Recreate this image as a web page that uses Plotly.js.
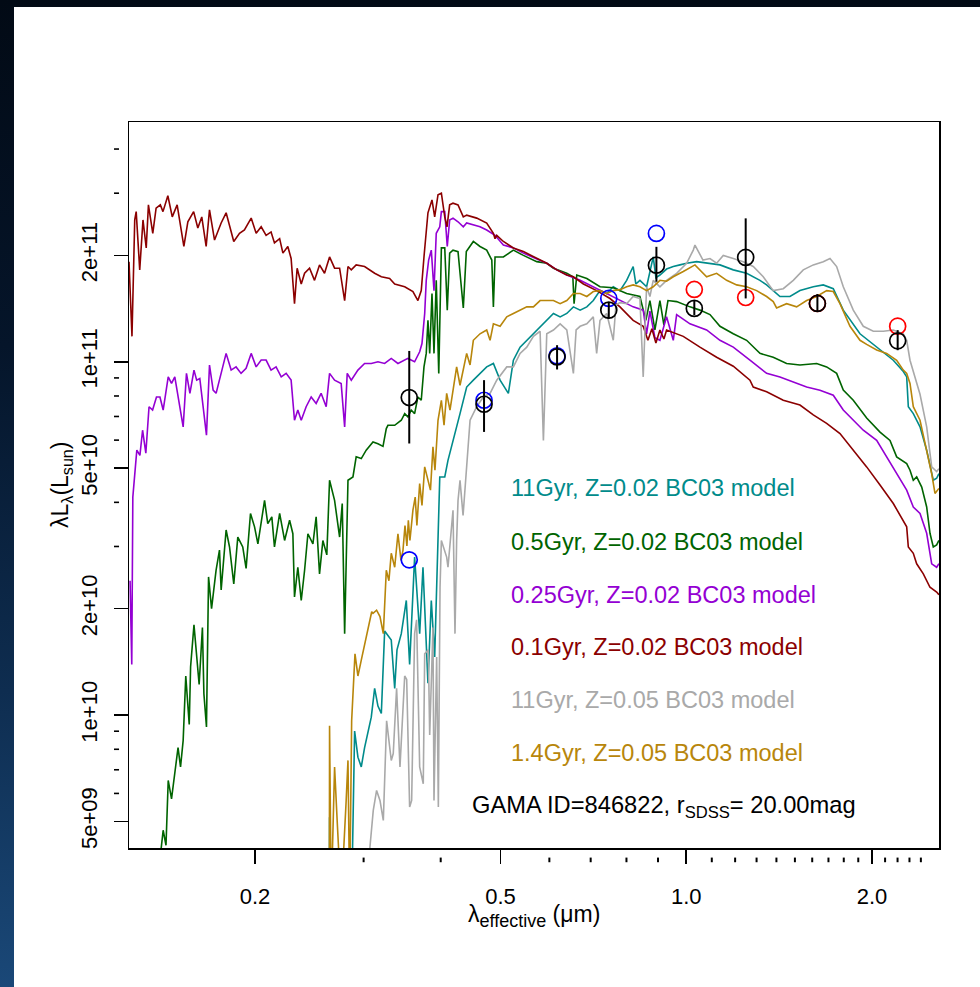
<!DOCTYPE html>
<html>
<head>
<meta charset="utf-8">
<script src="https://cdn.plot.ly/plotly-3.0.1.min.js"></script>
<style>
html,body{margin:0;padding:0;width:980px;height:987px;overflow:hidden;}
body{background:linear-gradient(to bottom,#020a15 0%,#05152a 35%,#0e2d50 70%,#1a4878 100%);}
#chart{position:absolute;left:14px;top:7px;width:966px;height:980px;background:#fff;}
</style>
</head>
<body>
<div id="chart"></div>
<script>
// ---------- data (wavelength in micron, luminosity in units of 1e10 Lsun) ----------
const FLUX_UNIT = 1e10;
const X_RANGE_UM = [0.125, 2.568];
const Y_RANGE = [4.204e9, 4.771e11];

const xMajor = [0.2, 0.5, 1.0, 2.0];
const xMajorText = ['0.2', '0.5', '1.0', '2.0'];
const xMinor = [0.3, 0.4, 0.6, 0.7, 0.8, 0.9, 1.1, 1.2, 1.3, 1.4, 1.5, 1.6, 1.7, 1.8, 1.9, 2.1, 2.2, 2.3, 2.4];
const yMajor = [5e9, 1e10, 2e10, 5e10, 1e11, 2e11];
const yMajorText = ['5e+09', '1e+10', '2e+10', '5e+10', '1e+11', '2e+11'];
const yMinor = [6e9, 7e9, 8e9, 9e9, 3e10, 4e10, 6e10, 7e10, 8e10, 9e10, 3e11, 4e11];

// 11Gyr, Z=0.02
const tealLam = [0.2640,0.2642,0.2658,0.2869,0.2901,0.2937,0.2974,0.3011,0.3087,0.3126,0.3165,0.3205,0.3245,0.3326,0.3369,0.3398,0.3453,0.3518,0.3562,0.3629,0.3698,0.3744,0.3814,0.3862,0.3911,0.3986,0.4061,0.4110,0.4299,0.4407,0.4518,0.4632,0.4749,0.4869,0.4992,0.5149,0.5246,0.5379,0.5515,0.5653,0.5796,0.5942,0.6092,0.6246,0.6403,0.6563,0.6730,0.6900,0.7069,0.7248,0.7431,0.7616,0.7809,0.8006,0.8203,0.8285,0.8412,0.8624,0.8840,0.8929,0.9064,0.9292,0.9527,0.9768,1.0014,1.0394,1.0789,1.1340,1.1918,1.2526,1.3165,1.3497,1.3834,1.4186,1.4725,1.5285,1.6064,1.6674,1.7309,1.7967,1.9123,2.0351,2.1654,2.2478,2.2763,2.2902,2.3332,2.3923,2.4526,2.5139,2.5457,2.567];
const tealFlux = [0.30,0.514,0.30,0.30,0.901,0.760,0.713,0.809,0.986,1.19,1.06,1.01,1.73,1.63,1.19,1.53,1.70,2.11,1.39,2.80,1.70,2.62,1.23,2.11,1.46,4.72,4.72,5.26,7.13,8.48,8.87,9.27,9.67,9.89,8.87,8.14,10.1,11.0,11.5,12.0,12.6,13.1,13.7,13.4,13.7,14.3,14.0,14.3,14.9,15.9,15.6,16.3,15.9,17.0,18.6,16.6,17.0,16.3,19.8,17.3,17.6,18.3,18.6,18.8,19.0,19.2,19.0,18.8,18.2,17.8,17.0,16.5,15.9,15.3,15.3,15.9,16.3,16.5,16.1,14.0,12.0,11.0,10.1,9.38,9.06,7.46,7.13,6.54,5.62,4.62,4.68,4.82];

// 0.5Gyr, Z=0.02
const greenLam = [0.1380,0.1420,0.1435,0.1447,0.1465,0.1483,0.1501,0.1515,0.1530,0.1545,0.1565,0.1573,0.1593,0.1624,0.1644,0.1653,0.1669,0.1682,0.1701,0.1715,0.1730,0.1752,0.1763,0.1796,0.1819,0.1848,0.1876,0.1911,0.1935,0.1967,0.1997,0.2022,0.2073,0.2098,0.2130,0.2151,0.2193,0.2234,0.2276,0.2304,0.2318,0.2347,0.2377,0.2407,0.2437,0.2483,0.2513,0.2545,0.2577,0.2615,0.2642,0.2692,0.2743,0.2770,0.2795,0.2830,0.2883,0.2918,0.2974,0.3029,0.3107,0.3165,0.3225,0.3265,0.3285,0.3369,0.3453,0.3497,0.3539,0.3583,0.3629,0.3674,0.3720,0.3758,0.3790,0.3814,0.3839,0.3872,0.3901,0.3934,0.3971,0.4010,0.4061,0.4099,0.4136,0.4188,0.4267,0.4352,0.4401,0.4518,0.4632,0.4749,0.4840,0.4869,0.4899,0.5054,0.5246,0.5446,0.5725,0.5942,0.6092,0.6403,0.6549,0.6580,0.6646,0.6900,0.7248,0.7616,0.8006,0.8412,0.8600,0.8732,0.8896,0.9064,0.9200,0.9340,0.9647,1.0139,1.0524,1.0925,1.1340,1.1918,1.2526,1.3165,1.3834,1.4543,1.5285,1.6267,1.6885,1.7528,1.7967,1.8650,1.9605,2.0606,2.1389,2.1928,2.2763,2.3046,2.3332,2.3627,2.4076,2.4526,2.4831,2.5139,2.5457,2.567];
const greenFlux = [0.30,0.472,0.428,0.653,0.579,0.697,0.809,0.713,0.848,1.29,0.940,1.37,1.80,1.22,1.77,1.15,0.925,2.46,2.00,2.26,2.57,2.93,2.26,3.34,2.99,2.35,3.19,2.99,2.60,3.72,3.41,3.05,4.05,3.48,3.64,2.99,3.72,3.12,3.56,3.26,2.16,2.62,2.11,2.57,3.26,3.05,3.64,2.51,3.12,2.84,4.62,4.05,3.19,3.97,1.70,4.62,4.72,5.38,5.32,5.62,5.93,5.86,5.76,6.47,6.61,6.61,6.83,7.13,6.98,7.30,7.13,7.95,7.78,9.67,10.56,13.1,10.56,15.6,10.56,17.0,9.27,21.0,21.0,14.0,20.3,20.7,20.5,14.2,20.5,21.9,21.2,20.7,19.4,14.3,19.8,19.8,20.7,20.0,19.2,19.0,18.4,17.8,17.4,14.6,17.6,17.2,16.3,16.2,15.6,15.3,13.1,14.9,12.3,14.9,12.7,14.9,14.8,14.3,14.0,13.6,12.6,12.0,11.5,10.56,10.3,9.89,9.79,9.89,9.67,9.27,8.31,7.78,6.93,6.32,5.99,5.38,5.15,4.93,4.62,4.72,4.42,3.88,3.27,2.99,3.03,3.12];

// 0.25Gyr, Z=0.02
const violetLam = [0.1255,0.1263,0.1268,0.1287,0.1302,0.1315,0.1331,0.1347,0.1365,0.1385,0.1403,0.1420,0.1447,0.1465,0.1483,0.1501,0.1530,0.1549,0.1569,0.1593,0.1609,0.1628,0.1648,0.1669,0.1688,0.1711,0.1730,0.1763,0.1796,0.1830,0.1864,0.1899,0.1935,0.1972,0.2009,0.2047,0.2085,0.2124,0.2164,0.2206,0.2247,0.2289,0.2318,0.2347,0.2377,0.2421,0.2467,0.2513,0.2560,0.2609,0.2642,0.2692,0.2759,0.2795,0.2822,0.2865,0.2937,0.3011,0.3087,0.3165,0.3245,0.3326,0.3410,0.3539,0.3629,0.3698,0.3730,0.3768,0.3790,0.3824,0.3862,0.3901,0.3934,0.3986,0.4010,0.4061,0.4099,0.4136,0.4188,0.4267,0.4352,0.4407,0.4632,0.4749,0.4899,0.5054,0.5246,0.5446,0.5725,0.5942,0.6169,0.6403,0.6730,0.7069,0.7431,0.7809,0.8203,0.8516,0.8624,0.8732,0.8896,0.9064,0.9292,0.9527,0.9647,1.0139,1.0789,1.1340,1.1918,1.2683,1.3497,1.4186,1.4908,1.5670,1.6470,1.7309,1.7967,1.8650,1.9360,2.0351,2.1125,2.1928,2.2763,2.3332,2.3923,2.4526,2.4990,2.5457,2.567];
const violetFlux = [2.40,1.39,4.14,5.62,5.43,6.40,5.51,7.46,7.30,7.95,7.95,7.30,9.06,8.68,9.06,7.95,6.54,9.27,8.14,9.47,8.87,8.97,7.46,6.20,9.79,8.31,8.14,9.27,10.56,9.47,9.67,9.27,9.58,10.56,9.67,10.11,10.11,9.47,9.67,9.06,9.27,8.87,6.83,7.30,6.83,7.46,7.95,7.62,8.14,7.46,9.27,8.87,8.68,6.54,9.27,8.87,9.47,9.89,9.89,10.0,9.89,10.22,9.89,10.22,10.0,10.67,11.26,13.7,17.0,19.4,20.7,15.9,23.1,24.1,26.6,26.6,21.2,25.2,25.5,24.9,24.1,24.7,24.1,23.6,22.8,21.4,21.0,20.3,19.6,19.0,18.2,17.6,17.0,16.3,15.6,14.9,14.3,14.0,12.0,13.9,11.7,11.5,13.4,11.5,13.6,12.8,12.3,11.5,11.0,10.1,9.27,9.06,8.77,8.48,8.31,8.04,7.30,6.83,6.40,5.99,5.38,4.82,4.33,3.88,3.72,3.27,2.68,2.62,2.68];

// 0.1Gyr, Z=0.02
const redLam = [0.1250,0.1264,0.1277,0.1284,0.1301,0.1317,0.1333,0.1344,0.1366,0.1383,0.1405,0.1419,0.1445,0.1469,0.1496,0.1534,0.1557,0.1591,0.1616,0.1640,0.1667,0.1688,0.1720,0.1763,0.1796,0.1848,0.1888,0.1923,0.1972,0.2009,0.2047,0.2085,0.2124,0.2151,0.2193,0.2220,0.2261,0.2289,0.2318,0.2341,0.2377,0.2407,0.2452,0.2498,0.2545,0.2593,0.2642,0.2692,0.2743,0.2759,0.2795,0.2830,0.2865,0.2918,0.3011,0.3126,0.3205,0.3306,0.3369,0.3497,0.3606,0.3674,0.3720,0.3758,0.3814,0.3872,0.3911,0.3960,0.4010,0.4061,0.4095,0.4136,0.4188,0.4267,0.4352,0.4407,0.4575,0.4749,0.4869,0.4899,0.4930,0.5054,0.5246,0.5446,0.5725,0.5942,0.6169,0.6403,0.6563,0.6813,0.7158,0.7523,0.7809,0.8203,0.8516,0.8667,0.8797,0.8929,0.9064,0.9200,0.9292,0.9889,1.0524,1.1200,1.1918,1.2683,1.2840,1.3497,1.4362,1.5285,1.6064,1.6885,1.7747,1.8650,1.9605,2.0606,2.1654,2.2763,2.2902,2.3332,2.3627,2.4220,2.4831,2.5457,2.567];
const redFlux = [19.2,11.8,25.2,26.6,18.2,25.2,21.0,27.8,23.1,27.2,27.8,26.6,29.5,25.7,27.8,21.2,24.9,26.6,23.9,25.7,21.2,26.9,22.1,24.7,26.4,21.9,23.1,23.6,25.5,23.1,24.1,22.8,23.3,21.7,22.3,20.3,21.2,19.6,14.6,18.4,16.6,17.8,18.4,17.0,18.8,17.8,19.8,18.4,18.4,17.2,14.9,18.6,18.2,18.8,18.6,17.8,17.4,17.2,16.6,16.3,15.8,14.9,15.9,19.8,26.4,28.7,25.7,29.7,30.0,25.7,24.1,27.8,28.1,27.8,25.7,26.0,25.5,24.7,23.1,22.3,22.8,21.9,21.0,20.5,19.6,19.0,18.2,17.6,17.4,16.6,15.9,15.1,14.3,13.1,12.6,11.5,12.4,11.3,12.3,11.6,12.3,11.8,11.0,10.3,9.71,8.87,8.48,8.22,7.78,7.54,7.07,6.69,6.26,5.62,5.04,4.48,3.97,3.41,2.99,2.87,2.68,2.51,2.30,2.23,2.19];

// 11Gyr, Z=0.05
const greyLam = [0.3049,0.3072,0.3110,0.3149,0.3189,0.3229,0.3269,0.3326,0.3351,0.3393,0.3436,0.3497,0.3523,0.3562,0.3589,0.3629,0.3656,0.3698,0.3748,0.3768,0.3819,0.3839,0.3886,0.3901,0.3940,0.3965,0.3990,0.4010,0.4090,0.4110,0.4188,0.4219,0.4245,0.4267,0.4299,0.4348,0.4463,0.4575,0.4690,0.4809,0.4930,0.5118,0.5246,0.5379,0.5515,0.5653,0.5796,0.5868,0.5942,0.6092,0.6246,0.6403,0.6563,0.6630,0.6730,0.6900,0.7069,0.7158,0.7248,0.7431,0.7616,0.7693,0.7809,0.8006,0.8203,0.8412,0.8516,0.8624,0.8732,0.8840,0.9064,0.9292,0.9647,1.0014,1.0265,1.0330,1.0643,1.0925,1.1200,1.1481,1.1918,1.2369,1.2840,1.3328,1.3834,1.4362,1.4908,1.5475,1.6064,1.6674,1.7097,1.7528,1.7967,1.8650,1.9360,2.0097,2.0862,2.1654,2.2478,2.2763,2.3046,2.3479,2.3923,2.4526,2.4990,2.5457,2.567];
const greyFlux = [0.30,0.424,0.537,0.612,0.573,0.503,0.963,0.744,0.778,1.19,0.713,1.29,1.26,0.549,0.573,1.70,1.86,0.713,0.639,1.49,1.53,0.878,1.77,0.573,1.46,0.549,2.30,3.12,2.80,2.62,3.80,1.70,3.12,4.05,4.62,3.67,6.83,7.46,7.95,8.14,8.87,9.67,9.67,10.56,11.0,11.8,12.2,5.99,12.0,12.3,12.8,12.3,9.27,12.3,12.6,12.8,13.4,10.56,13.1,13.7,11.5,14.5,14.7,14.6,15.3,15.1,9.06,16.3,15.3,17.0,16.3,17.0,17.8,19.0,20.7,21.4,19.4,19.6,19.0,20.0,19.6,19.2,18.6,17.4,15.9,16.1,17.0,18.2,18.8,19.2,19.6,18.6,16.3,14.0,12.6,12.2,12.2,12.3,12.0,11.5,10.1,9.06,8.09,6.54,5.04,4.89,4.98];

// 1.4Gyr, Z=0.05
const goldLam = [0.2640,0.2642,0.2658,0.2692,0.2718,0.2759,0.2811,0.2830,0.2848,0.2869,0.2905,0.2937,0.2974,0.3011,0.3092,0.3107,0.3149,0.3189,0.3229,0.3265,0.3297,0.3326,0.3369,0.3410,0.3449,0.3475,0.3501,0.3526,0.3545,0.3566,0.3606,0.3637,0.3660,0.3698,0.3730,0.3768,0.3814,0.3850,0.3886,0.3915,0.3960,0.4010,0.4050,0.4090,0.4141,0.4245,0.4299,0.4407,0.4463,0.4518,0.4632,0.4749,0.4809,0.4869,0.4992,0.5118,0.5246,0.5379,0.5515,0.5653,0.5796,0.5942,0.6092,0.6246,0.6403,0.6563,0.6730,0.6900,0.7069,0.7248,0.7431,0.7616,0.7809,0.8006,0.8203,0.8412,0.8624,0.8840,0.9064,0.9292,0.9527,0.9889,1.0265,1.0330,1.0789,1.1200,1.1626,1.2069,1.2526,1.3003,1.3497,1.3834,1.4009,1.4543,1.5096,1.5670,1.6267,1.6885,1.7309,1.7747,1.8422,1.9123,1.9605,2.0351,2.1125,2.1928,2.2478,2.2763,2.3046,2.3332,2.3923,2.4526,2.4990,2.5298,2.567];
const goldFlux = [0.30,0.932,0.30,0.713,0.503,0.30,0.573,0.744,0.30,0.963,1.49,1.29,1.43,1.59,1.96,1.94,1.98,1.90,1.70,2.57,2.40,2.87,2.62,3.26,2.74,2.93,3.44,3.01,3.56,3.12,3.80,4.14,3.44,4.52,3.92,5.04,4.62,4.33,5.74,4.93,6.83,7.78,6.61,8.14,7.30,9.67,8.58,10.56,9.79,11.5,12.0,12.3,11.5,12.8,12.6,13.4,13.7,14.0,14.3,14.3,14.9,14.9,14.9,14.6,14.9,15.6,15.6,15.3,15.8,15.9,15.6,15.9,16.0,16.3,16.5,16.3,15.9,16.3,17.0,16.9,17.4,18.0,18.6,18.8,17.4,17.8,17.0,16.5,16.3,15.9,15.3,14.8,14.2,14.6,14.3,14.9,15.3,15.9,15.8,14.6,12.6,11.5,11.2,10.8,10.56,10.1,9.47,9.27,8.68,7.46,6.83,5.62,4.82,4.24,4.38];

// photometry (u g r i z Y J H K effective wavelengths)
const bandLam = [0.3557, 0.4702, 0.6175, 0.7489, 0.8946, 1.0305, 1.2483, 1.6313, 2.2010];
const obsFlux  = [7.92, 7.58, 10.32, 14.0, 18.77, 14.16, 19.74, 14.62, 11.46];
const obsHigh  = [10.73, 8.87, 11.14, 14.75, 21.15, 14.94, 25.46, 15.54, 12.29];
const obsLow   = [5.87, 6.33, 9.51, 13.25, 16.84, 13.55, 15.11, 13.85, 10.78];
const sdssModelLam  = [0.3557, 0.4702, 0.6175, 0.7489, 0.8946];
const sdssModelFlux = [2.75, 7.78, 10.39, 15.11, 23.08];
const nirModelLam   = [1.0305, 1.2483, 1.6313, 2.2010];
const nirModelFlux  = [16.02, 15.20, 14.62, 12.61];

const seriesNames  = ['11Gyr, Z=0.02 BC03 model', '0.5Gyr, Z=0.02 BC03 model', '0.25Gyr, Z=0.02 BC03 model', '0.1Gyr, Z=0.02 BC03 model', '11Gyr, Z=0.05 BC03 model', '1.4Gyr, Z=0.05 BC03 model'];
const seriesColors = ['#008B8B', '#006400', '#9400D3', '#8B0000', '#A9A9A9', '#B8860B'];
const seriesLam  = [tealLam, greenLam, violetLam, redLam, greyLam, goldLam];
const seriesFlux = [tealFlux, greenFlux, violetFlux, redFlux, greyFlux, goldFlux];
const infoText = 'GAMA ID=846822, r<sub>SDSS</sub>= 20.00mag';
const xTitle = 'λ<sub><span style="font-size:18px">effective</span></sub> (μm)';
const yTitle = 'λL<sub>λ</sub>(L<sub>sun</sub>)';

// ---------- build ----------
const FONT = 'Liberation Sans, Arial, Helvetica, sans-serif';
const scale = a => a.map(v => v * FLUX_UNIT);

const traces = [];
seriesLam.forEach((lam, i) => {
  traces.push({
    type: 'scatter', mode: 'lines', x: lam, y: scale(seriesFlux[i]),
    line: {color: seriesColors[i], width: 1.6}, name: seriesNames[i], hoverinfo: 'skip'
  });
});
traces.push({
  type: 'scatter', mode: 'markers', x: sdssModelLam, y: scale(sdssModelFlux),
  marker: {symbol: 'circle-open', size: 16, color: '#0000FF', line: {width: 1.7, color: '#0000FF'}}
});
traces.push({
  type: 'scatter', mode: 'markers', x: nirModelLam, y: scale(nirModelFlux),
  marker: {symbol: 'circle-open', size: 16, color: '#FF0000', line: {width: 1.7, color: '#FF0000'}}
});
traces.push({
  type: 'scatter', mode: 'markers', x: bandLam, y: scale(obsFlux),
  marker: {symbol: 'circle-open', size: 16, color: '#000000', line: {width: 1.7, color: '#000000'}},
  error_y: {type: 'data', symmetric: false,
    array: obsHigh.map((h, i) => (h - obsFlux[i]) * FLUX_UNIT),
    arrayminus: obsLow.map((l, i) => (obsFlux[i] - l) * FLUX_UNIT),
    color: '#000000', thickness: 2, width: 0}
});

const lx0 = Math.log10(X_RANGE_UM[0]), lx1 = Math.log10(X_RANGE_UM[1]);
const ly0 = Math.log10(Y_RANGE[0]), ly1 = Math.log10(Y_RANGE[1]);
const shapes = [];
yMinor.forEach(v => {
  const p = (Math.log10(v) - ly0) / (ly1 - ly0);
  shapes.push({type: 'line', xref: 'paper', yref: 'paper', x0: -0.0185, x1: -0.0123, y0: p, y1: p, line: {color: '#000', width: 1.6}});
});
xMinor.forEach(v => {
  const p = (Math.log10(v) - lx0) / (lx1 - lx0);
  shapes.push({type: 'line', xref: 'paper', yref: 'paper', x0: p, x1: p, y0: -0.0132, y1: -0.0196, line: {color: '#000', width: 2}});
});

const legendY = [0.4959, 0.4219, 0.3485, 0.2773, 0.2039, 0.1304];
const annotations = seriesNames.map((t, i) => ({
  text: t, xref: 'paper', yref: 'paper', x: 0.4691, y: legendY[i],
  xanchor: 'left', yanchor: 'middle', showarrow: false,
  font: {family: FONT, size: 23.5, color: seriesColors[i]}
}));
annotations.push({text: infoText, xref: 'paper', yref: 'paper', x: 0.4210, y: 0.0569,
  xanchor: 'left', yanchor: 'middle', showarrow: false, font: {family: FONT, size: 23.7, color: '#000'}});
annotations.push({text: xTitle, xref: 'paper', yref: 'paper', x: 0.5, y: -0.093,
  xanchor: 'center', yanchor: 'middle', showarrow: false, font: {family: FONT, size: 23, color: '#000'}});
annotations.push({text: yTitle, xref: 'paper', yref: 'paper', x: -0.0840, y: 0.5,
  xanchor: 'center', yanchor: 'middle', textangle: -90, showarrow: false, font: {family: FONT, size: 23, color: '#000'}});

const axisCommon = {
  showgrid: false, zeroline: false, showline: true, mirror: true,
  linecolor: '#000', linewidth: 1.5, ticks: 'outside', ticklen: 14, tickwidth: 1.6, tickcolor: '#000',
  tickfont: {family: FONT, size: 22, color: '#000'}
};
const layout = {
  width: 966, height: 980,
  margin: {l: 115, r: 41, t: 115, b: 139},
  paper_bgcolor: '#ffffff', plot_bgcolor: '#ffffff',
  showlegend: false, hovermode: false,
  xaxis: Object.assign({}, axisCommon, {type: 'log', range: [lx0, lx1], tickmode: 'array', tickvals: xMajor, ticktext: xMajorText, ticklabelstandoff: 14}),
  yaxis: Object.assign({}, axisCommon, {type: 'log', range: [ly0, ly1], tickmode: 'array', tickvals: yMajor, ticktext: yMajorText, tickangle: -90, ticklabelstandoff: 8}),
  shapes: shapes, annotations: annotations
};
Plotly.newPlot('chart', traces, layout, {displayModeBar: false, staticPlot: true});
</script>
</body>
</html>
